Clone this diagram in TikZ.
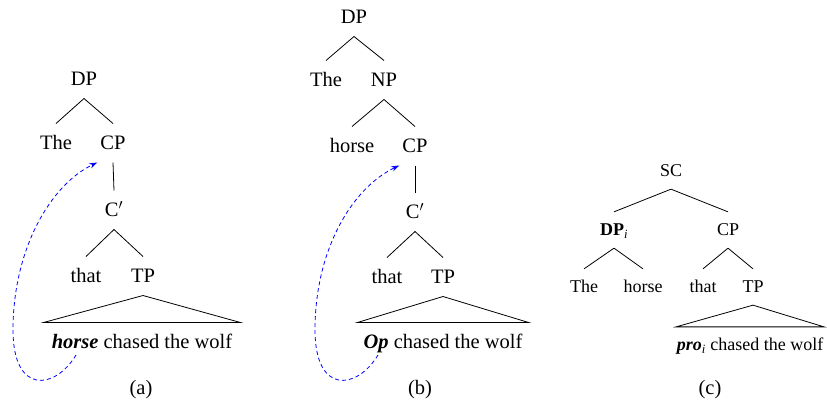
\documentclass[tikz,border=0pt]{standalone}
\usepackage{fontspec}
\setmainfont{Liberation Serif}
\usetikzlibrary{arrows.meta}

\begin{document}
\begin{tikzpicture}[
    x=1pt, y=-1pt,
    lab/.style={font=\fontsize{20.5}{24}\selectfont, text height=13.6pt, text depth=0pt, inner ysep=12.5pt, inner xsep=3pt},
    sml/.style={font=\fontsize{18}{21}\selectfont, text height=11.9pt, text depth=0pt, inner ysep=12pt, inner xsep=0pt},
    branch/.style={line width=0.8pt},
    move/.style={->, >={Stealth[length=8pt,width=5.5pt]}, dashed, dash pattern=on 4pt off 3pt, blue, line width=0.8pt}
]
\useasboundingbox (0,0) rectangle (827,405);

% Tree (a)
\node[lab] (dpa) at (84,79) {DP};
\node[lab] (thea) at (56,143) {The};
\node[lab] (cpa) at (113,143) {CP};
\node[lab] (cba) at (114,210) {C$'$};
\node[lab] (thata) at (86,276) {that};
\node[lab] (tpa) at (143,276) {TP};
\node[lab, inner xsep=8pt] (sa) at (142,342) {\textbf{\textit{horse}} chased the wolf};
\node[lab] (capa) at (141,388) {(a)};

\draw[branch] (dpa.south) -- (thea.north);
\draw[branch] (dpa.south) -- (cpa.north);
\draw[branch] (cpa.south) -- (cba.north);
\draw[branch] (cba.south) -- (thata.north);
\draw[branch] (cba.south) -- (tpa.north);
\draw[branch] (tpa.south) -- (sa.north west) -- (sa.north east) -- cycle;

\coordinate (mova) at (76,355);
\draw[move] (mova) .. controls (55,390) and (13,395) .. (13,330)
    .. controls (13,250) and (50,185) .. (cpa.south west);

% Tree (b)
\node[lab] (dpb) at (354,17) {DP};
\node[lab] (theb) at (326,80) {The};
\node[lab] (npb) at (384,80) {NP};
\node[lab] (horseb) at (352,146) {horse};
\node[lab] (cpb) at (415,146) {CP};
\node[lab] (cbb) at (415,212) {C$'$};
\node[lab] (thatb) at (387,277) {that};
\node[lab] (tpb) at (443,277) {TP};
\node[lab, inner xsep=6pt] (sb) at (443,342) {\textbf{\textit{Op}} chased the wolf};
\node[lab] (capb) at (420,388) {(b)};

\draw[branch] (dpb.south) -- (theb.north);
\draw[branch] (dpb.south) -- (npb.north);
\draw[branch] (npb.south) -- (horseb.north);
\draw[branch] (npb.south) -- (cpb.north);
\draw[branch] (cpb.south) -- (cbb.north);
\draw[branch] (cbb.south) -- (thatb.north);
\draw[branch] (cbb.south) -- (tpb.north);
\draw[branch] (tpb.south) -- (sb.north west) -- (sb.north east) -- cycle;

\coordinate (movb) at (378,355);
\draw[move] (movb) .. controls (357,390) and (315,395) .. (315,330)
    .. controls (315,250) and (352,188) .. (cpb.south west);

% Tree (c)
\node[sml] (scc) at (671,171) {SC};
\node[sml] (dpc) at (614,230) {\textbf{DP}\textsubscript{\textit{i}}};
\node[sml] (cpc) at (728,230) {CP};
\node[sml] (thec) at (584,287) {The};
\node[sml] (horsec) at (643,287) {horse};
\node[sml] (thatc) at (703,287) {that};
\node[sml] (tpc) at (753,287) {TP};
\node[sml, inner xsep=0.5pt] (sc) at (750,345) {\textbf{\textit{pro}}\textsubscript{\textit{i}} chased the wolf};
\node[lab] (capc) at (710,388) {(c)};

\draw[branch] (scc.south) -- (dpc.north);
\draw[branch] (scc.south) -- (cpc.north);
\draw[branch] (dpc.south) -- (thec.north);
\draw[branch] (dpc.south) -- (horsec.north);
\draw[branch] (cpc.south) -- (thatc.north);
\draw[branch] (cpc.south) -- (tpc.north);
\draw[branch] (tpc.south) -- (sc.north west) -- (sc.north east) -- cycle;

\end{tikzpicture}
\end{document}
